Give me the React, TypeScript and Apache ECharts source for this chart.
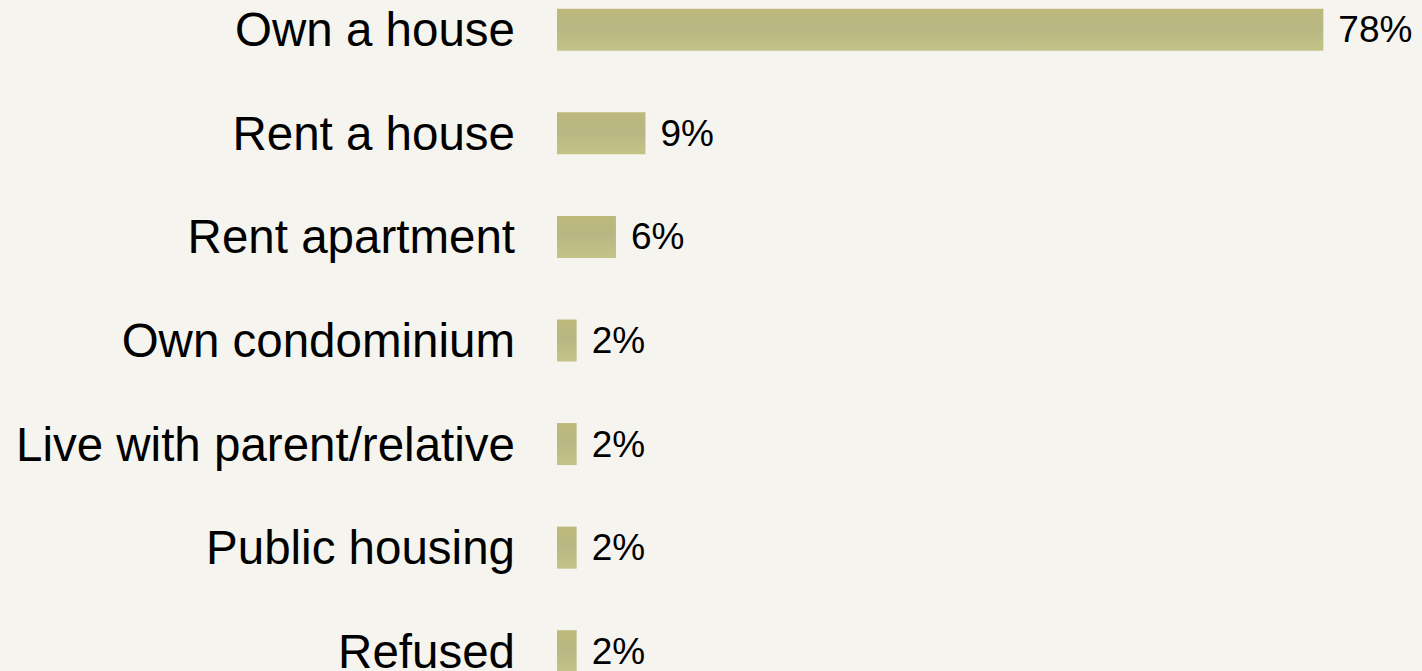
import React, { useEffect, useRef } from "react";
import * as echarts from "echarts";

const categories = [
  "Own a house",
  "Rent a house",
  "Rent apartment",
  "Own condominium",
  "Live with parent/relative",
  "Public housing",
  "Refused",
];
const values = [78, 9, 6, 2, 2, 2, 2];

export default function App() {
  const ref = useRef<HTMLDivElement>(null);
  useEffect(() => {
    document.body.style.margin = "0";
    document.body.style.background = "#f5f4ef";
    const chart = echarts.init(ref.current!, undefined, { renderer: "svg" });
    chart.setOption({
      animation: false,
      backgroundColor: "#f5f4ef",
      grid: { left: 557, right: 79, top: 0, bottom: 0, containLabel: false },
      xAxis: {
        type: "value",
        min: 0,
        max: 80,
        show: false,
      },
      yAxis: {
        type: "category",
        data: categories,
        inverse: true,
        axisLine: { show: false },
        axisTick: { show: false },
        splitLine: { show: false },
        axisLabel: {
          color: "#000",
          fontSize: 47.5,
          fontFamily: "Liberation Sans, Arial, sans-serif",
          margin: 42,
        },
      },
      series: [
        {
          type: "bar",
          data: values,
          barWidth: 42,
          itemStyle: {
            color: new echarts.graphic.LinearGradient(0, 0, 0, 1, [
              { offset: 0, color: "#bcb97a" },
              { offset: 0.45, color: "#b8b784" },
              { offset: 1, color: "#c3c388" },
            ]),
          },
          label: {
            show: true,
            position: "right",
            distance: 15,
            formatter: "{c}%",
            color: "#000",
            fontSize: 37,
            fontFamily: "Liberation Sans, Arial, sans-serif",
          },
        },
      ],
    });
    return () => chart.dispose();
  }, []);
  return (
    <div
      style={{
        position: "absolute",
        left: 0,
        top: -22,
        width: 1422,
        height: 725,
        overflow: "hidden",
      }}
    >
      <div ref={ref} style={{ width: 1422, height: 725 }} />
    </div>
  );
}
